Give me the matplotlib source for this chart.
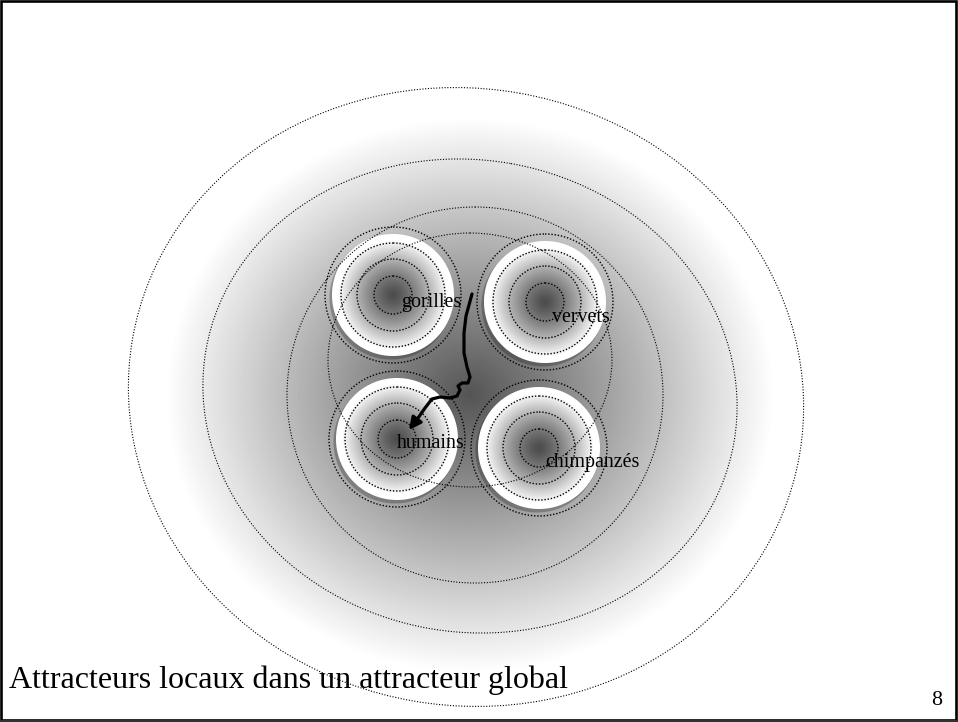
import numpy as np
import matplotlib
matplotlib.use("Agg")
import matplotlib.pyplot as plt
from matplotlib.patches import Ellipse, Rectangle, FancyArrowPatch
from matplotlib.path import Path

W, H = 958, 722

# local attractors (pixel coords of the slide)
species = ["gorilles", "vervets", "humains", "chimpanzés"]
centre_x = [393, 545, 397, 539]
centre_y = [295, 302, 439, 448]
label_x = [401, 552, 397, 545]
label_y = [307, 322, 448, 467]
disk_radius = 61
ring_radii = [19, 36, 52, 68]

# global attractor: dotted contour ellipses (cx, cy, width, height, angle)
contour_cx = [466, 470, 475, 470]
contour_cy = [397, 396, 395, 360]
contour_w = [677, 536, 376, 284]
contour_h = [617, 472, 376, 254]
contour_angle = [10, 10, 0, 0]

# shaded basin of the global attractor
basin_cx, basin_cy = 470, 395
basin_a, basin_b = 305, 278

# trajectory gorilles -> humains
arrow_x = [472, 469, 466, 464, 464, 467, 470, 468, 462, 458, 460, 457,
           450, 440, 432, 425, 418, 409]
arrow_y = [294, 305, 316, 333, 353, 367, 377, 383, 383, 386, 390, 396,
           398, 397, 399, 408, 418, 430]

title = "Attracteurs locaux dans un attracteur global"
page_no = "8"

serif = ["Liberation Serif", "DejaVu Serif"]

# ---- shaded image ----
yy, xx = np.mgrid[0:H, 0:W] + 0.5
t = np.sqrt(((xx - basin_cx) / basin_a) ** 2 + ((yy - basin_cy) / basin_b) ** 2)
img = np.clip(0.33 + 0.67 * t, 0, 1)

for cx, cy in zip(centre_x, centre_y):
    # shadow on the lower-left rim
    rs = np.hypot(xx - (cx - 2), yy - (cy + 3))
    sa = np.clip(disk_radius + 1 - rs, 0, 1) * 0.5
    img = img * (1 - sa) + (img * 0.5) * sa
    r = np.hypot(xx - cx, yy - cy)
    inner = np.clip(0.3 + 0.7 * (r / 55.0) ** 1.3, 0, 1)
    a = np.clip(disk_radius + 0.5 - r, 0, 1)
    img = img * (1 - a) + inner * a

fig = plt.figure(figsize=(W / 100, H / 100), dpi=100)
ax = fig.add_axes([0, 0, 1, 1])
ax.set_xlim(0, W)
ax.set_ylim(H, 0)
ax.axis("off")
ax.imshow(img, cmap="gray", vmin=0, vmax=1, extent=(0, W, H, 0),
          interpolation="antialiased", zorder=0)

for cx, cy, w, h, ang in zip(contour_cx, contour_cy, contour_w, contour_h, contour_angle):
    ax.add_patch(Ellipse((cx, cy), w, h, angle=ang, fill=False, ec="black",
                         lw=0.8, ls=(0, (1, 1.5)), zorder=2))

for cx, cy in zip(centre_x, centre_y):
    for rr in ring_radii:
        ax.add_patch(Ellipse((cx, cy), 2 * rr, 2 * rr, fill=False, ec="black",
                             lw=1.0, ls=(0, (1, 1.3)), zorder=3))

for name, lx, ly in zip(species, label_x, label_y):
    ax.text(lx, ly, name, fontsize=14.4, family=serif, ha="left",
            va="baseline", color="black", zorder=5)

path = Path(np.column_stack([arrow_x, arrow_y]))
arr = FancyArrowPatch(path=path, arrowstyle="-|>", mutation_scale=18,
                      lw=2.3, color="black", joinstyle="round",
                      capstyle="round", zorder=6)
ax.add_patch(arr)

ax.text(9, 688, title, fontsize=23, family=serif, ha="left",
        va="baseline", color="black", zorder=5)
ax.text(942, 705, page_no, fontsize=15.8, family=serif, ha="right",
        va="baseline", color="black", zorder=5)

# slide frame
ax.add_patch(Rectangle((1.2, 1.2), W - 3.2, H - 3.6, fill=False, ec="black",
                       lw=1.9, zorder=7))
ax.plot([0, W], [720.5, 720.5], color="#333333", lw=1.5, zorder=7)

fig.savefig("out.png", dpi=100)
